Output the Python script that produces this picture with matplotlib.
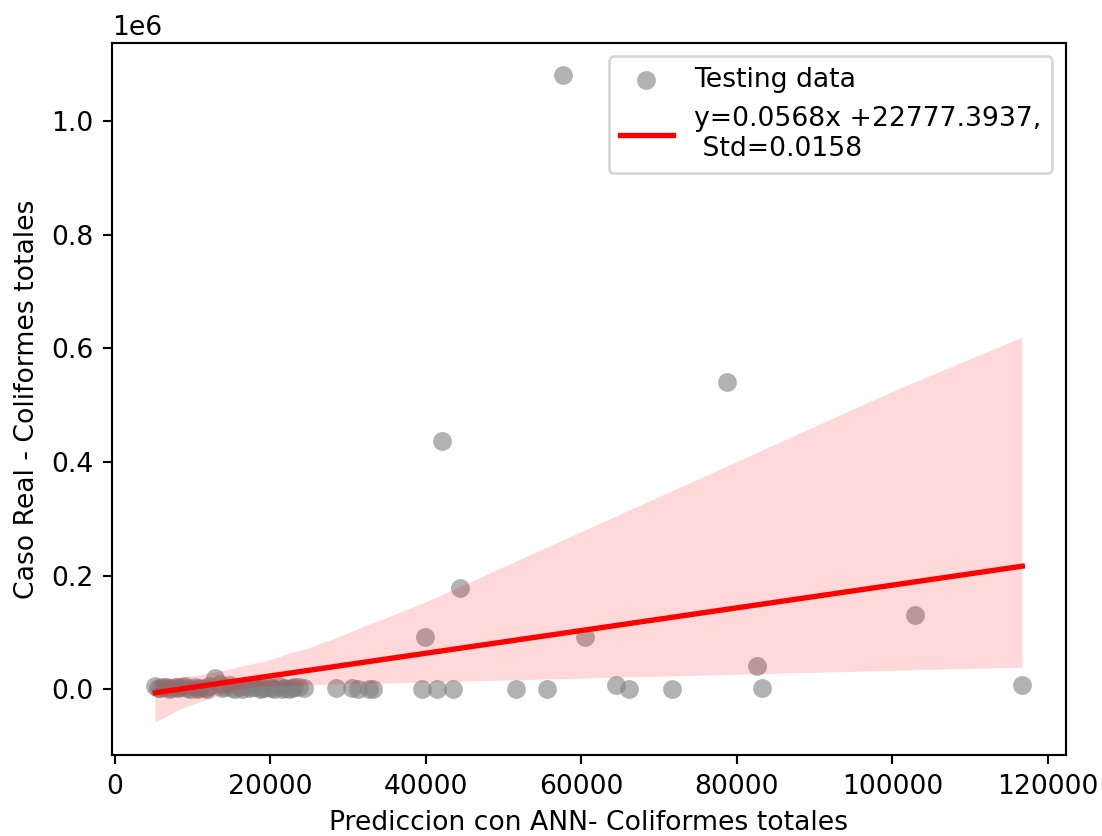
import numpy as np
import matplotlib
matplotlib.use("Agg")
import matplotlib.pyplot as plt
import seaborn as sns

# predicted (ANN) vs real values
pred_cluster = [5240, 5540, 5840, 6250, 6550, 6950, 7260, 7860, 8160, 8470,
                9070, 9370, 9670, 10280, 10580, 10880, 11590, 11890, 12190,
                12900, 13500, 13800, 14110, 14810, 15120, 15420, 16120, 16430,
                16730, 17330, 17640, 18040, 18640, 18940, 19250, 19950, 20250,
                20560, 21160, 21570, 21870, 22470, 22780, 23080, 23680, 24290,
                28420, 30530, 31240, 32650, 33250]
real_cluster = [6000, 2000, 3000, 5000, 4500, 1000, 2000, 5000, 2500, 3500,
                6500, 3000, 1500, 4000, 1000, 2500, 3000, 1000, 5500,
                20000, 9000, 2000, 4000, 7000, 3000, 1000, 3500, 500,
                6000, 2000, 4000, 5000, 1500, 3000, 3000, 4500, 2000,
                1000, 6000, 1500, 2500, 500, 3000, 3500, 5000,
                2000, 3000, 2000, 1500, 1000, 500]

pred_other = [39500, 41500, 43480, 51600, 55540, 64440, 66140, 71630, 83180,
              116690, 39900, 44420, 42100, 60460, 57640, 78690, 102960, 82540]
real_other = [1000, 1000, 1000, 1000, 1000, 8000, 1000, 1000, 2000,
              8000, 92000, 178000, 437000, 92000, 1080000, 540000, 130000, 41000]

x = np.array(pred_cluster + pred_other, dtype=float)
y = np.array(real_cluster + real_other, dtype=float)

line_label = "y=0.0568x +22777.3937,\n Std=0.0158"

fig, ax = plt.subplots(figsize=(1102 / 192, 836 / 192), dpi=192)
fig.subplots_adjust(left=0.1016, right=0.967, bottom=0.0969, top=0.9486)

sns.regplot(x=x, y=y, ax=ax, ci=99, seed=1, label="Testing data",
            scatter_kws={"color": "gray", "alpha": 0.6, "s": 50, "linewidths": 0},
            line_kws={"color": "red", "lw": 2, "label": line_label})

ax.set_xlabel("Prediccion con ANN- Coliformes totales")
ax.set_ylabel("Caso Real - Coliformes totales")
ax.legend(loc="upper right")

fig.savefig("out.png", dpi=192)
